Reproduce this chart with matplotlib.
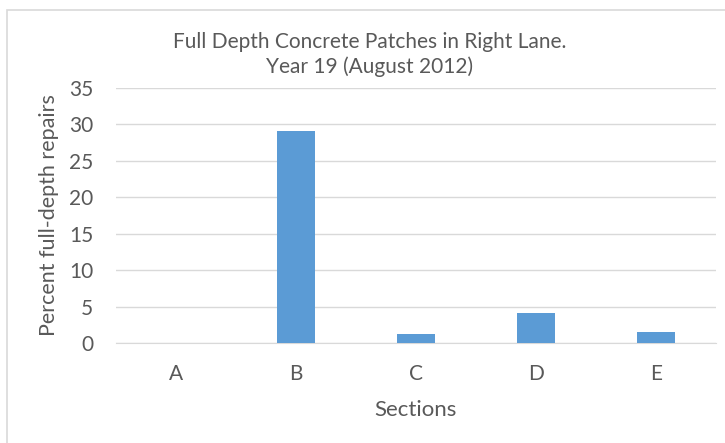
import matplotlib
matplotlib.use("Agg")
import matplotlib.pyplot as plt
from matplotlib.patches import Rectangle

sections = ["A", "B", "C", "D", "E"]
percent_repairs = [0.0, 29.1, 1.2, 4.05, 1.55]
y_ticks = [0, 5, 10, 15, 20, 25, 30, 35]
title_lines = ["Full Depth Concrete Patches in Right Lane.", "Year 19 (August 2012)"]

plt.rcParams["font.family"] = ["Lato", "DejaVu Sans"]
text_color = "#595959"
W, H = 725, 443

fig = plt.figure(figsize=(W / 100, H / 100), dpi=100)
fig.patch.set_facecolor("white")
# light frame around the chart area
fig.add_artist(Rectangle((7 / W, -0.01), 1.02 - 7 / W, 1.01 - 10 / H,
                         transform=fig.transFigure, fill=False,
                         edgecolor="#d9d9d9", linewidth=1.2))

ax = fig.add_axes([116 / W, 1 - 343 / H, 600 / W, (343 - 88) / H])
x = range(len(sections))
ax.bar(x, percent_repairs, width=0.32, color="#5b9bd5", zorder=3)

ax.set_xlim(-0.5, len(sections) - 0.5)
ax.set_ylim(0, 35)
ax.set_yticks(y_ticks)
ax.set_xticks(list(x))
ax.set_xticklabels(sections)
ax.grid(axis="y", color="#d9d9d9", linewidth=1.0, zorder=0)
for side in ["top", "right", "left"]:
    ax.spines[side].set_visible(False)
ax.spines["bottom"].set_color("#d9d9d9")
ax.tick_params(axis="both", length=0, labelsize=15, colors=text_color)
ax.tick_params(axis="x", pad=15)
ax.tick_params(axis="y", pad=16.5)

ax.set_ylabel("Percent full-depth repairs", fontsize=15.5, color=text_color)
ax.yaxis.set_label_coords(-(116 - 59) / 600, 0.5)
fig.text(415 / W, 1 - 416 / H, "Sections", ha="center", va="baseline",
         fontsize=16, color=text_color)

fig.text(370 / W, 1 - 48 / H, title_lines[0], ha="center", va="baseline",
         fontsize=15, color=text_color)
fig.text(370 / W, 1 - 73 / H, title_lines[1], ha="center", va="baseline",
         fontsize=15, color=text_color)

fig.savefig("out.png", dpi=100, facecolor="white")
